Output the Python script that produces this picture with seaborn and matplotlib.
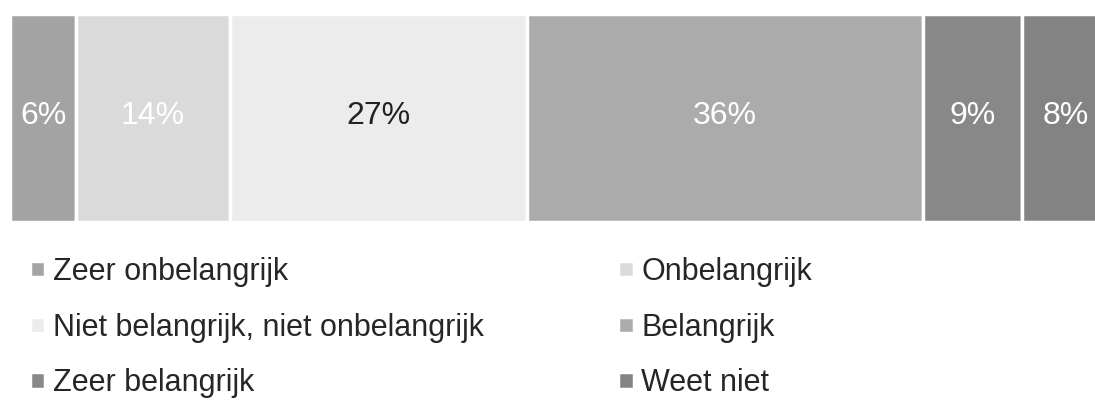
import numpy as np
import matplotlib
matplotlib.use("Agg")
import matplotlib.pyplot as plt
import seaborn as sns

categories = ["Zeer onbelangrijk", "Onbelangrijk", "Niet belangrijk, niet onbelangrijk",
              "Belangrijk", "Zeer belangrijk", "Weet niet"]
values = [6, 14, 27, 36, 9, 8]
labels = ["6%", "14%", "27%", "36%", "9%", "8%"]
colors = ["#a3a3a3", "#dadada", "#ececec", "#ababab", "#888888", "#838383"]
label_colors = ["white", "white", "#222222", "white", "white", "white"]

sns.set_theme(style="white")
plt.rcParams['font.family'] = ['Liberation Sans', 'DejaVu Sans']

fig = plt.figure(figsize=(10.95, 4.0), dpi=100)
ax = fig.add_axes([10 / 1095, 1 - 222 / 400, 1100 / 1095, 208 / 400])

lefts = np.concatenate([[0], np.cumsum(values)[:-1]])
bars = []
for v, l, c, lab, lc, cat in zip(values, lefts, colors, labels, label_colors, categories):
    b = ax.barh([0], [v], left=[l], height=1.0, color=c, edgecolor="white",
                linewidth=2.5, label=cat)
    bars.append(b)
    ax.text(l + v / 2, 0.01, lab, ha="center", va="center", fontsize=23, color=lc)

ax.set_xlim(0, 100)
ax.set_ylim(-0.5, 0.5)
ax.axis("off")

order = [0, 2, 4, 1, 3, 5]
handles = [bars[i] for i in order]
names = [categories[i] for i in order]
fig.legend(handles, names, ncol=2, loc="upper left", bbox_to_anchor=(30 / 1095, 1 - 257 / 400),
           frameon=False, fontsize=22, handlelength=0.5, handleheight=0.45,
           handletextpad=0.25, columnspacing=4.4, labelspacing=0.84, borderaxespad=0,
           borderpad=0)

fig.savefig("out.png", dpi=100)
